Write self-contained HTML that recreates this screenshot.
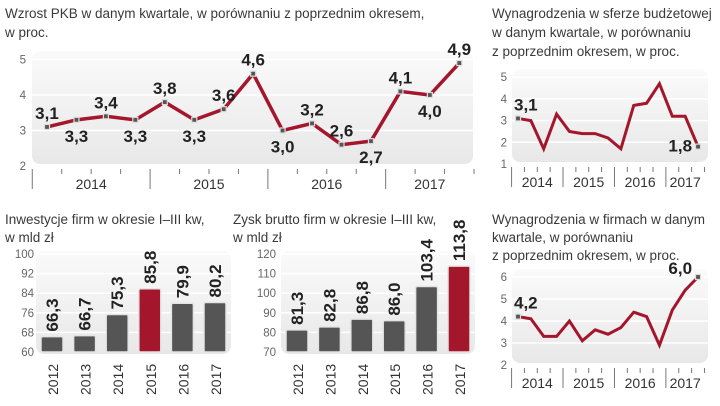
<!DOCTYPE html>
<html><head><meta charset="utf-8"><style>
html,body{margin:0;padding:0;background:#fff;}
svg{display:block;font-family:"Liberation Sans",sans-serif;}
.t{font-size:13.5px;fill:#3a3a3a;}
.ax{font-size:11.5px;fill:#666;}
.yr{font-size:14px;fill:#333;}
.v{font-family:"Liberation Sans Narrow","Liberation Sans",sans-serif;font-weight:bold;font-size:17px;fill:#222;}
</style></head><body>
<svg id="s" width="720" height="406" viewBox="0 0 720 406">
<defs>
<linearGradient id="g" x1="0" y1="0" x2="0" y2="1"><stop offset="0" stop-color="#fafafa"/><stop offset="1" stop-color="#e8e8e8"/></linearGradient>
</defs>
<text class="t" x="5" y="18">Wzrost PKB w danym kwartale, w porównaniu z poprzednim okresem,</text>
<text class="t" x="5" y="37">w proc.</text>
<text class="t" x="492" y="18">Wynagrodzenia w sferze budżetowej</text>
<text class="t" x="492" y="37">w danym kwartale, w porównaniu</text>
<text class="t" x="492" y="56">z poprzednim okresem, w proc.</text>
<text class="t" x="5" y="224">Inwestycje firm w okresie I–III kw,</text>
<text class="t" x="5" y="242">w mld zł</text>
<text class="t" x="233" y="224">Zysk brutto firm w okresie I–III kw,</text>
<text class="t" x="233" y="242">w mld zł</text>
<text class="t" x="492" y="224">Wynagrodzenia w firmach w danym</text>
<text class="t" x="492" y="242">kwartale, w porównaniu</text>
<text class="t" x="492" y="260">z poprzednim okresem, w proc.</text>
</svg>
<script>
const years = ["2014","2015","2016","2017"];
const gdpValues = [3.1,3.3,3.4,3.3,3.8,3.3,3.6,4.6,3.0,3.2,2.6,2.7,4.1,4.0,4.9];
const gdpTicks = [2,3,4,5];
const gdpLabelPos = ["a","b","a","b","a","b","a","a","b","a","a","b","a","b","a"];
const budgetValues = [3.1,3.0,1.7,3.3,2.5,2.4,2.4,2.2,1.7,3.7,3.8,4.7,3.2,3.2,1.8];
const budgetTicks = [1,2,3,4,5];
const firmValues = [4.2,4.1,3.3,3.3,4.0,3.1,3.6,3.4,3.7,4.4,4.2,2.9,4.5,5.4,6.0];
const firmTicks = [2,3,4,5,6];
const barYears = ["2012","2013","2014","2015","2016","2017"];
const investValues = [66.3,66.7,75.3,85.8,79.9,80.2];
const investTicks = [60,68,76,84,92,100];
const profitValues = [81.3,82.8,86.8,86.0,103.4,113.8];
const profitTicks = [70,80,90,100,110,120];

const S=document.getElementById('s');
const NS='http://www.w3.org/2000/svg';
function mk(tag,attrs,parent){const e=document.createElementNS(NS,tag);for(const k in attrs)e.setAttribute(k,attrs[k]);(parent||S).appendChild(e);return e;}
const fmt=v=>v.toFixed(1).replace('.',',');

function lineChart(o){
  const y=v=>o.y0-(v-o.tmin)*o.ppu;
  const x=i=>o.x0+i*o.dx;
  const bg=mk('rect',{x:o.bx,y:y(o.tmax)-8,width:o.bw,height:o.y0-y(o.tmax)+6,rx:8,fill:'url(#g)'});
  
  
  o.ticks.forEach(t=>{
    if(t>o.tmin){const gl=mk('line',{x1:o.bx,x2:o.bx+o.bw,y1:y(t),y2:y(t),stroke:'#fff','stroke-width':1.5});
    
    }
    const tx=mk('text',{x:o.lx,y:y(t)+4,'text-anchor':'end',class:'ax'});tx.textContent=t;
    
    
  });
  const n=o.vals.length;
  for(let k=0;k<=16;k++){
    const xx=x(-0.5)+k*o.dx;
    if(xx>o.bx+o.bw+2)break;
    const major=(k%4===0);
    const tk=mk('line',{x1:xx,x2:xx,y1:o.y0+3,y2:o.y0+(major?23:8),stroke:'#777','stroke-width':1});
    
    
  }
  years.forEach((yr,i)=>{
    const cx=x(-0.5)+(i*4+2)*o.dx - (i===3?o.dx*0.5:0);
    const t=mk('text',{x:cx,y:o.y0+23,'text-anchor':'middle',class:'yr'});t.textContent=yr;
    
    
  });
  const pts=o.vals.map((v,i)=>x(i)+','+y(v)).join(' ');
  const pl=mk('polyline',{points:pts,fill:'none',stroke:'#a3162c','stroke-width':o.sw,'stroke-linejoin':'miter'});
  
  
  o.vals.forEach((v,i)=>{
    if(!o.all && i!==0 && i!==n-1) return;
    const m=mk('rect',{x:x(i)-2.5,y:y(v)-2.5,width:5,height:5,fill:'#555',stroke:'#ddd','stroke-width':1.2});
    
    
    let ly, lx=x(i), anchor='middle';
    if(o.pos){ly=o.pos[i]==='a'?y(v)-8:y(v)+22;}
    else if(i===0){ly=y(v)-8;lx=x(i)-4;anchor='start';}
    else {ly=y(v)+5;lx=x(i)-6;anchor='end'; if(v>=5){ly=y(v)-3;}}
    const tl=mk('text',{x:lx,y:ly,'text-anchor':anchor,class:'v'});tl.textContent=fmt(v);
    
    
  });
}
lineChart({name:'gdp',vals:gdpValues,ticks:gdpTicks,tmin:2,tmax:5,y0:166,ppu:35.5,x0:47,dx:29.45,bx:32,bw:441,lx:26,sw:3.5,all:true,pos:gdpLabelPos});
lineChart({name:'budget-wages',vals:budgetValues,ticks:budgetTicks,tmin:1,tmax:5,y0:164,ppu:21.7,x0:518,dx:12.86,bx:512,bw:196,lx:507,sw:3});
lineChart({name:'firm-wages',vals:firmValues,ticks:firmTicks,tmin:2,tmax:6,y0:365,ppu:22,x0:518,dx:12.86,bx:512,bw:196,lx:507,sw:3});

function barChart(o){
  const y=v=>o.y0-(v-o.tmin)*o.ppu;
  const bg=mk('rect',{x:o.bx,y:y(o.tmax)-3,width:o.bw,height:o.y0-y(o.tmax)+5,rx:8,fill:'url(#g)'});
  
  
  o.ticks.forEach(t=>{
    if(t>o.tmin){const gl=mk('line',{x1:o.bx,x2:o.bx+o.bw,y1:y(t),y2:y(t),stroke:'#fff','stroke-width':1.5});
    
    }
    const tx=mk('text',{x:o.lx,y:y(t)+4,'text-anchor':'end',class:'ax'});tx.textContent=t;
    
    
  });
  o.vals.forEach((v,i)=>{
    const cx=o.x0+i*o.dx;
    const b=mk('rect',{x:cx-11,y:y(v),width:22,height:o.y0-y(v),fill:i===o.hl?'#a3162c':'#555',stroke:'#e4e4e4','stroke-width':1.5,rx:1.5});
    
    
    const tl=mk('text',{x:cx+6,y:y(v)-5,class:'v',transform:`rotate(-90 ${cx+6} ${y(v)-5})`});tl.textContent=fmt(v);
    
    
    const yl=mk('text',{x:cx+6,y:o.y0+43,class:'yr','font-size':'15.5',transform:`rotate(-90 ${cx+6} ${o.y0+43})`});yl.textContent=barYears[i];
    
    
  });
}
barChart({name:'investment',vals:investValues,ticks:investTicks,tmin:60,tmax:100,y0:352,ppu:2.45,x0:52,dx:32.6,bx:36,bw:195,lx:34,hl:3});
barChart({name:'profit',vals:profitValues,ticks:profitTicks,tmin:70,tmax:120,y0:352,ppu:1.96,x0:297,dx:32.4,bx:281,bw:194,lx:276,hl:5});
</script>
</body></html>
